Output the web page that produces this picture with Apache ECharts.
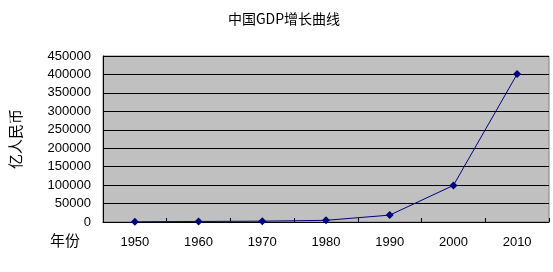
<!DOCTYPE html>
<html><head><meta charset="utf-8">
<script src="https://cdn.jsdelivr.net/npm/echarts@6/dist/echarts.min.js"></script>
<style>html,body{margin:0;padding:0;background:#fff}#c{width:553px;height:272px}</style>
</head><body><div id="c"></div>
<script>
const years = ['1950','1960','1970','1980','1990','2000','2010'];
const gdp = [500, 1457, 2253, 4545, 18668, 99215, 401202];
const yTicks = {min: 0, max: 450000, interval: 50000};
const titleText = '中国GDP增长曲线';
const yName = '亿人民币';
const xName = '年份';

const chart = echarts.init(document.getElementById('c'));
chart.setOption({
  animation: false,
  backgroundColor: '#ffffff',
  title: {text: titleText, left: 279, top: 7, textAlign: 'center',
    textStyle: {fontFamily: 'Noto Sans CJK SC', fontWeight: 'normal', fontSize: 14, color: '#000'}},
  grid: {left: 100, right: 4, top: 56, bottom: 50, show: true,
    backgroundColor: '#c0c0c0', borderColor: '#808080', borderWidth: 1},
  xAxis: {type: 'category', data: years, boundaryGap: true,
    axisLine: {lineStyle: {color: '#000', width: 1}},
    axisTick: {show: true, inside: true, length: 4, lineStyle: {color: '#000'}},
    axisLabel: {margin: 14, fontFamily: 'Liberation Sans', fontSize: 13, color: '#000'},
    splitLine: {show: false}},
  yAxis: {type: 'value', min: yTicks.min, max: yTicks.max, interval: yTicks.interval,
    name: yName, nameLocation: 'middle', nameGap: 80, nameRotate: 90,
    nameTextStyle: {fontFamily: 'Noto Sans CJK SC', fontSize: 15, color: '#000'},
    axisLine: {show: true, lineStyle: {color: '#000', width: 1}},
    axisTick: {show: false},
    axisLabel: {margin: 12, fontFamily: 'Liberation Sans', fontSize: 13, color: '#000',
      formatter: v => String(v)},
    splitLine: {show: true, lineStyle: {color: '#000', width: 1}}},
  graphic: [{type: 'text', left: 50, top: 233,
    style: {text: xName, font: '15px "Noto Sans CJK SC"', fill: '#000'}}],
  series: [{type: 'line', data: gdp, symbol: 'diamond', symbolSize: 8,
    lineStyle: {color: '#000080', width: 1}, itemStyle: {color: '#000080'}}]
});
</script></body></html>
